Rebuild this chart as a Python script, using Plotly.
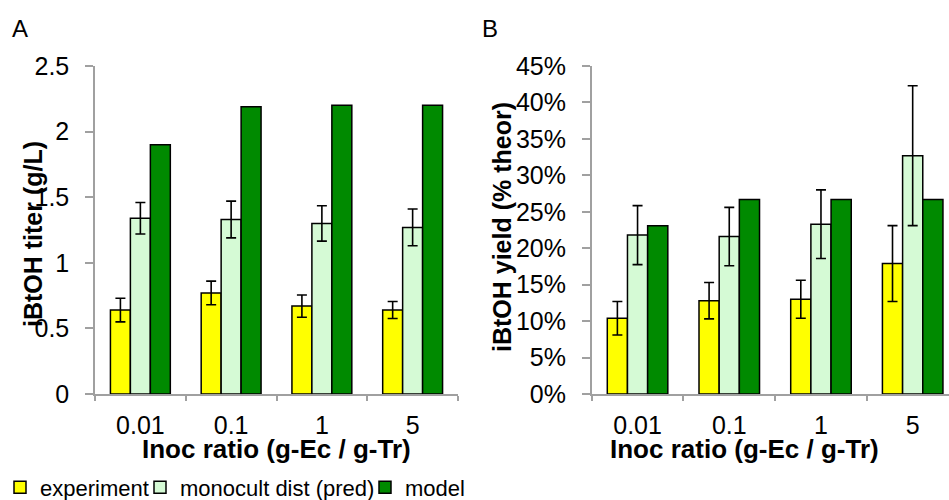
import plotly.graph_objects as go

categories = ["0.01", "0.1", "1", "5"]

# Panel A: iBtOH titer (g/L)
titer_experiment = [0.64, 0.77, 0.67, 0.64]
titer_experiment_err = [0.09, 0.09, 0.085, 0.065]
titer_monocult = [1.34, 1.33, 1.30, 1.27]
titer_monocult_err = [0.12, 0.14, 0.135, 0.14]
titer_model = [1.90, 2.19, 2.20, 2.20]

# Panel B: iBtOH yield (% theor)
yield_experiment = [10.4, 12.8, 13.0, 17.9]
yield_experiment_err = [2.3, 2.5, 2.6, 5.2]
yield_monocult = [21.8, 21.6, 23.3, 32.7]
yield_monocult_err = [4.05, 4.0, 4.7, 9.6]
yield_model = [23.1, 26.7, 26.7, 26.7]

series_names = ["experiment", "monocult dist (pred)", "model"]
colors = ["#FFFF00", "#D5FAD5", "#008A00"]
legend_ids = ["legend", "legend2", "legend3"]

FONT = "Liberation Sans, Arial, sans-serif"
AXIS_GREY = "#A0A0A0"

fig = go.Figure()

def add_panel(vals, errs, xa, ya, show):
    for i, (v, e) in enumerate(zip(vals, errs)):
        kw = {}
        if e is not None:
            kw["error_y"] = dict(type="data", array=e, visible=True,
                                 color="black", thickness=1.6, width=5)
        fig.add_trace(go.Bar(
            x=categories, y=v, name=series_names[i],
            marker=dict(color=colors[i], line=dict(color="black", width=1.5)),
            xaxis=xa, yaxis=ya, showlegend=show, legend=legend_ids[i],
            **kw))

add_panel([titer_experiment, titer_monocult, titer_model],
          [titer_experiment_err, titer_monocult_err, None], "x", "y", True)
add_panel([yield_experiment, yield_monocult, yield_model],
          [yield_experiment_err, yield_monocult_err, None], "x2", "y2", False)

W, H = 949, 500
ytop = 1 - 66 / H
ybot = 1 - 394 / H

xaxis_common = dict(
    type="category", showline=True, linecolor=AXIS_GREY, linewidth=1.5,
    ticks="outside", tickson="boundaries", ticklen=5, tickwidth=1.5,
    tickcolor=AXIS_GREY, showgrid=False, zeroline=False, automargin=False,
    tickfont=dict(family=FONT, size=25, color="black"),
    ticklabelstandoff=8,
)
yaxis_common = dict(
    showline=True, linecolor=AXIS_GREY, linewidth=1.5,
    ticks="outside", ticklen=8, tickwidth=1.5, tickcolor=AXIS_GREY,
    showgrid=False, zeroline=False, automargin=False,
    tickfont=dict(family=FONT, size=25, color="black"),
    ticklabelstandoff=11,
)

legend_common = dict(orientation="h", y=-0.017, xanchor="left", yanchor="bottom",
                     font=dict(family=FONT, size=22, color="black"),
                     itemwidth=30, bgcolor="rgba(0,0,0,0)")

def px_x(v):
    return v / W

def px_y(v):
    return 1 - v / H

title_font_x = dict(family=FONT, size=26, color="black")
title_font_y = dict(family=FONT, size=25, color="black")

annotations = [
    dict(text="A", x=px_x(10), y=px_y(13), xanchor="left", yanchor="top",
         font=dict(family=FONT, size=24, color="black")),
    dict(text="B", x=px_x(480), y=px_y(13), xanchor="left", yanchor="top",
         font=dict(family=FONT, size=24, color="black")),
    dict(text="<b>Inoc ratio (g-Ec / g-Tr)</b>", x=px_x(276), y=px_y(449),
         xanchor="center", yanchor="middle", font=title_font_x),
    dict(text="<b>Inoc ratio (g-Ec / g-Tr)</b>", x=px_x(744), y=px_y(449),
         xanchor="center", yanchor="middle", font=title_font_x),
    dict(text="<b>iBtOH titer (g/L)</b>", x=px_x(33), y=px_y(234), textangle=-90,
         xanchor="center", yanchor="middle", font=title_font_y),
    dict(text="<b>iBtOH yield (% theor)</b>", x=px_x(502), y=px_y(227), textangle=-90,
         xanchor="center", yanchor="middle", font=title_font_y),
]
for a in annotations:
    a.update(xref="paper", yref="paper", showarrow=False)

fig.update_layout(
    width=W, height=H,
    margin=dict(l=0, r=0, t=0, b=0, autoexpand=False),
    paper_bgcolor="white", plot_bgcolor="white",
    barmode="group", bargap=0.34, bargroupgap=0,
    xaxis=dict(domain=[95 / W, 458 / W], range=[-0.5, 3.5],
               anchor="y", **xaxis_common),
    yaxis=dict(domain=[ybot, ytop], range=[0, 2.5], dtick=0.5,
               anchor="x", **yaxis_common),
    xaxis2=dict(domain=[591.7 / W, 1.0], range=[-0.5, 3.396],
                anchor="y2", **xaxis_common),
    yaxis2=dict(domain=[ybot, ytop], range=[0, 45], dtick=5,
                ticksuffix="%", anchor="x2", **yaxis_common),
    legend=dict(x=0.0, **legend_common),
    legend2=dict(x=140 / W, **legend_common),
    legend3=dict(x=365 / W, **legend_common),
    annotations=annotations,
    font=dict(family=FONT, color="black"),
)

fig.write_html("out.html", config={"displayModeBar": False},
               post_script="document.body.style.margin='0';document.body.style.overflow='hidden';")
